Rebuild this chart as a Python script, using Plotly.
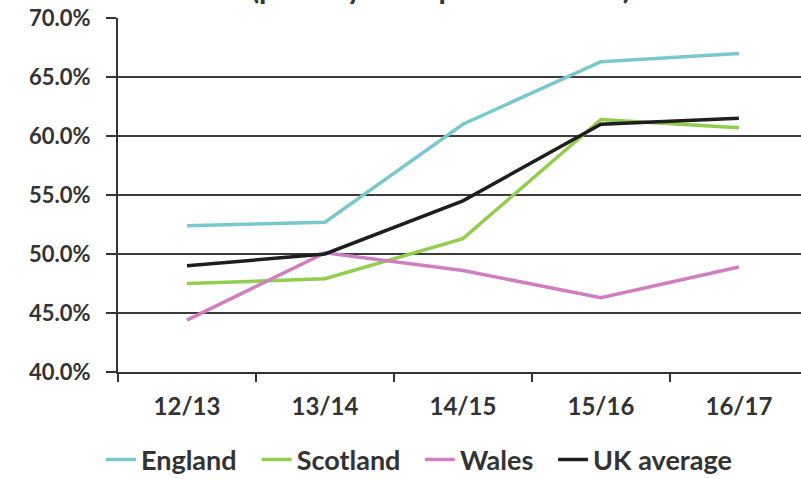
import plotly.graph_objects as go

# school years on the x axis
years = ['12/13', '13/14', '14/15', '15/16', '16/17']

# percentages
england = [52.4, 52.7, 61.0, 66.3, 67.0]
scotland = [47.5, 47.9, 51.3, 61.4, 60.7]
wales = [44.4, 50.1, 48.6, 46.3, 48.9]
uk_average = [49.0, 50.0, 54.5, 61.0, 61.5]

FONT = 'Lato'
TEXT_COLOR = '#333333'

# name, values, colour, legend id, legend x (paper)
series = [
    ('England', england, '#7ac7cd', 'legend', -0.025),
    ('Scotland', scotland, '#92cd4e', 'legend2', 0.203),
    ('Wales', wales, '#cf7fbf', 'legend3', 0.442),
    ('UK average', uk_average, '#1e1e1e', 'legend4', 0.637),
]

fig = go.Figure()
for name, vals, colour, leg, _ in series:
    fig.add_trace(go.Scatter(x=years, y=vals, name=name, mode='lines', legend=leg,
                             line=dict(color=colour, width=3.5)))

legends = {}
for name, vals, colour, leg, lx in series:
    legends[leg] = dict(orientation='h', x=lx, xanchor='left',
                        yref='container', y=0.04, yanchor='middle',
                        font=dict(size=27, family=FONT, weight='bold', color=TEXT_COLOR),
                        itemwidth=30, bgcolor='rgba(0,0,0,0)')

fig.update_layout(
    width=801, height=479,
    margin=dict(l=118, r=0, t=18, b=107),
    plot_bgcolor='white', paper_bgcolor='white',
    font=dict(family=FONT, size=24, color=TEXT_COLOR, weight='bold'),
    showlegend=True,
    **legends,
)

fig.update_xaxes(
    type='category', range=[-0.5, 4.45], automargin=False,
    showline=True, linecolor='#333333', linewidth=2,
    ticks='outside', tickson='boundaries', ticklen=8, tickwidth=2, tickcolor='#333333',
    ticklabelstandoff=12, showgrid=False,
)

fig.update_yaxes(
    range=[40, 70], dtick=5, tickformat='.1f', ticksuffix='%', automargin=False,
    showline=True, linecolor='#333333', linewidth=2,
    ticks='outside', ticklen=10, tickwidth=2, tickcolor='#333333',
    showgrid=True, gridcolor='#3c3c3c', gridwidth=1.5, zeroline=False,
    tickfont=dict(size=22), ticklabelstandoff=11,
)

# title sits above the visible area; only its lower part shows
fig.add_annotation(text='(primary and special schools)', xref='paper', yref='paper',
                   x=0.473, y=1.02, yshift=4, xanchor='center', yanchor='bottom', showarrow=False,
                   font=dict(size=30, family=FONT, weight='bold', color=TEXT_COLOR))

# drop the default page margin so the figure sits at the window's corner
fig.write_html('out.html', config={'displayModeBar': False},
               post_script="document.body.style.margin='0';")
